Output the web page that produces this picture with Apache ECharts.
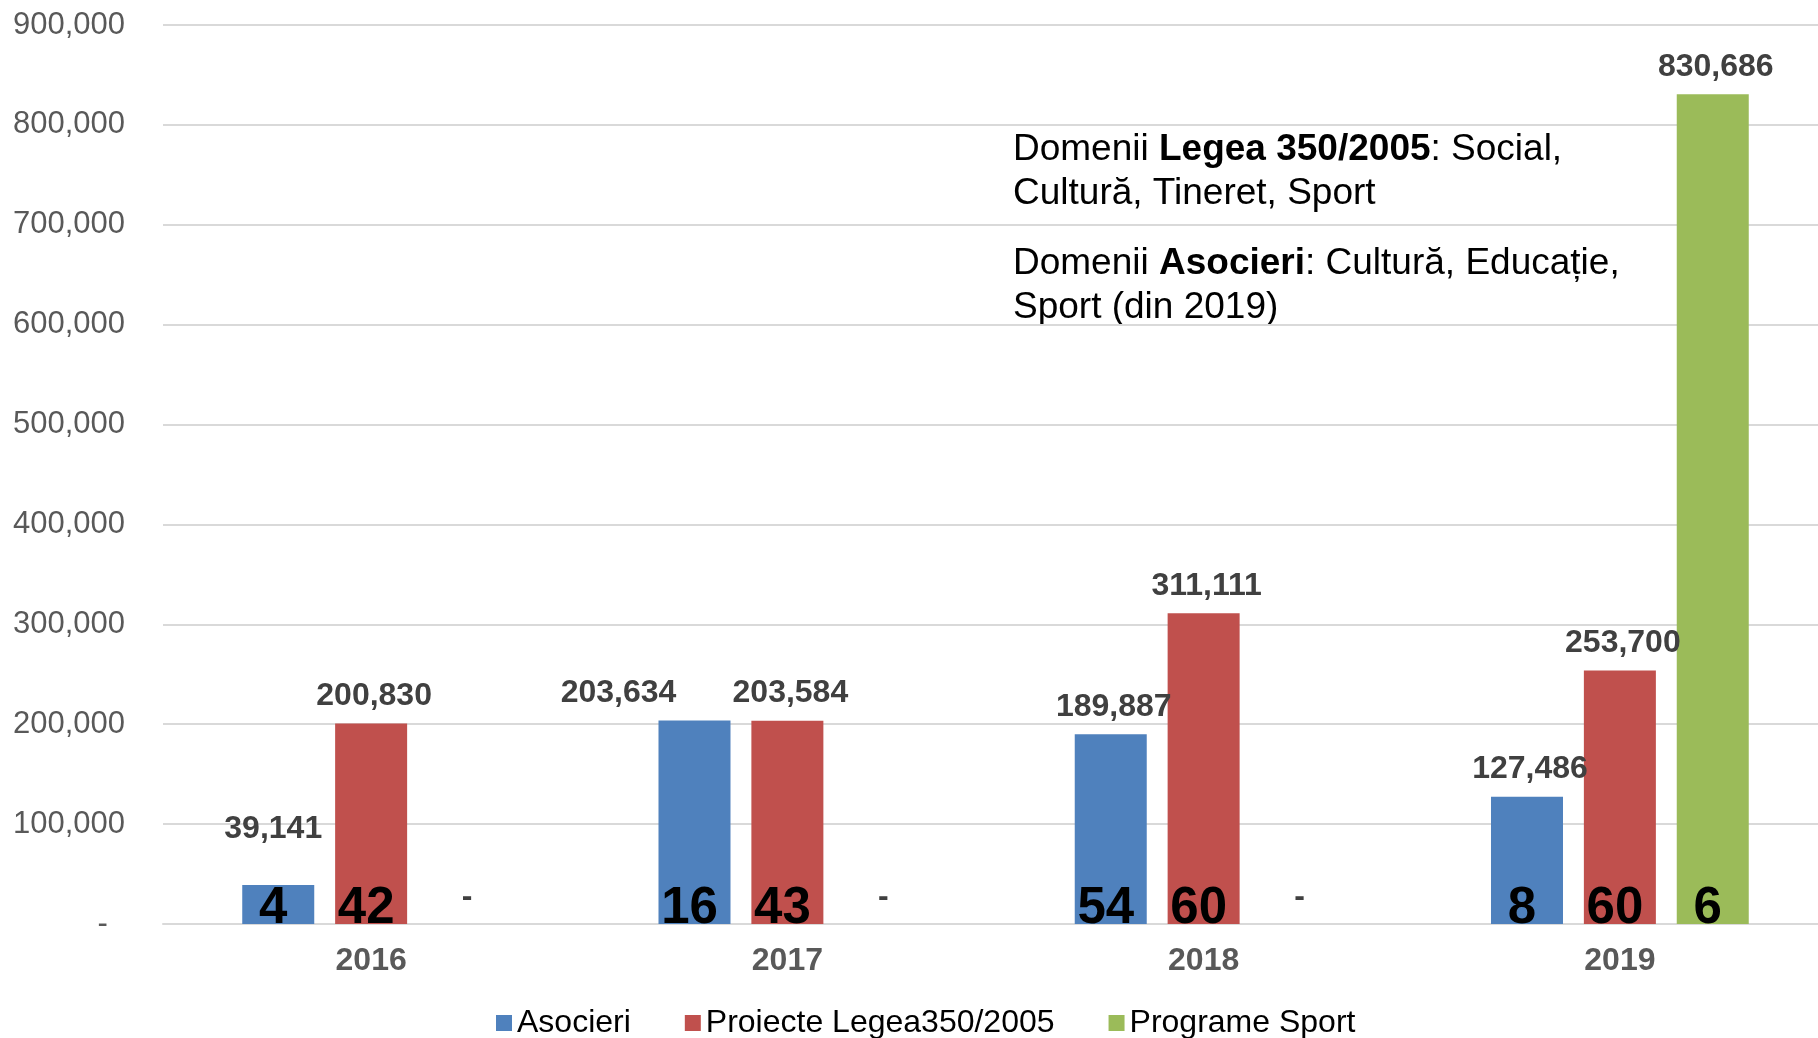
<!DOCTYPE html>
<html>
<head>
<meta charset="utf-8">
<script src="https://cdn.jsdelivr.net/npm/echarts@6/dist/echarts.min.js"></script>
<style>
  html, body { margin: 0; padding: 0; background: #fff; overflow: hidden; }
  #chart { width: 1828px; height: 1038px; }
</style>
</head>
<body>
<div id="chart"></div>
<script>
// date
const years = ['2016', '2017', '2018', '2019'];
const asocieri = [39141, 203634, 189887, 127486];
const proiecte = [200830, 203584, 311111, 253700];
const sport = [0, 0, 0, 830686];
// numar de proiecte (afisat la baza barelor)
const nrAsocieri = [4, 16, 54, 8];
const nrProiecte = [42, 43, 60, 60];
const nrSport = [null, null, null, 6];
const seriesNames = ['Asocieri', 'Proiecte Legea350/2005', 'Programe Sport'];
const colors = ['#4f81bd', '#c0504d', '#9bbb59'];

const fmt = v => v === 0 ? '-' : String(v).replace(/\B(?=(\d{3})+(?!\d))/g, ',');

const font = 'Liberation Sans, Arial, sans-serif';

// decalaje manuale ale etichetelor (ca in Excel)
const labelOffsets = {
  'Asocieri': { 0: [-5, -29], 1: [-76, 0] }
};

const valueData = (name, arr) => arr.map((v, i) => {
  const off = (labelOffsets[name] || {})[i];
  return off ? { value: v, label: { offset: off } } : v;
});

const countSeries = (stack, counts) => ({
  name: stack + '_nr',
  type: 'bar',
  stack: stack,
  barWidth: 72,
  barGap: '29%',
  data: counts.map(() => 0),
  itemStyle: { color: 'transparent' },
  silent: true,
  label: {
    show: true,
    position: 'top',
    distance: 0,
    offset: [-5, 10],
    formatter: p => counts[p.dataIndex] == null ? '' : String(counts[p.dataIndex]),
    fontFamily: font,
    fontWeight: 'bold',
    fontSize: 51,
    color: '#000'
  }
});

const valueSeries = (stack, idx, arr) => ({
  name: seriesNames[idx],
  type: 'bar',
  stack: stack,
  barWidth: 72,
  barGap: '29%',
  data: valueData(seriesNames[idx], arr),
  itemStyle: { color: colors[idx] },
  label: {
    show: true,
    position: 'top',
    distance: 11,
    offset: [3, 0],
    formatter: p => fmt(arr[p.dataIndex]),
    fontFamily: font,
    fontWeight: 'bold',
    fontSize: 32,
    color: '#404040'
  }
});

const textRich = {
  n: { fontFamily: font, fontSize: 37, lineHeight: 44, fill: '#000' },
  b: { fontFamily: font, fontSize: 37, lineHeight: 44, fontWeight: 'bold', fill: '#000' }
};

let chart = echarts.init(document.getElementById('chart'));
let option = {
  animation: false,
  grid: { left: 163, right: 0, top: 25, bottom: 114, containLabel: false },
  legend: {
    data: seriesNames,
    left: 491,
    top: 1002,
    icon: 'rect',
    itemWidth: 16,
    itemHeight: 16,
    itemGap: 54,
    textStyle: { fontFamily: font, fontSize: 32, color: '#000' }
  },
  xAxis: {
    type: 'category',
    data: years,
    axisLine: { lineStyle: { color: '#d9d9d9', width: 2 } },
    axisTick: { show: false },
    axisLabel: { fontFamily: font, fontWeight: 'bold', fontSize: 32, color: '#595959', margin: 21 }
  },
  yAxis: {
    type: 'value',
    min: 0,
    max: 900000,
    interval: 100000,
    axisLine: { show: false },
    axisTick: { show: false },
    splitLine: { lineStyle: { color: '#d9d9d9', width: 2 } },
    axisLabel: {
      fontFamily: font, fontSize: 31, color: '#595959', margin: 38,
      formatter: v => v === 0 ? '-  ' : fmt(v)
    }
  },
  graphic: [
    {
      type: 'text', left: 1013, top: 131,
      style: {
        text: '{n|Domenii }{b|Legea 350/2005}{n|: Social,}\n{n|Cultură, Tineret, Sport}',
        rich: textRich
      }
    },
    {
      type: 'text', left: 1013, top: 245,
      style: {
        text: '{n|Domenii }{b|Asocieri}{n|: Cultură, Educație,}\n{n|Sport (din 2019)}',
        rich: textRich
      }
    }
  ],
  series: [
    countSeries('a', nrAsocieri),
    valueSeries('a', 0, asocieri),
    countSeries('b', nrProiecte),
    valueSeries('b', 1, proiecte),
    countSeries('c', nrSport),
    valueSeries('c', 2, sport)
  ]
};
chart.setOption(option);
</script>
</body>
</html>
